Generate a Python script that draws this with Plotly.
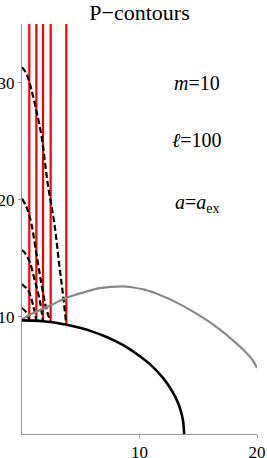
import plotly.graph_objects as go

# Red vertical P-contour positions (x) and their bottom ends on the black boundary (y)
red_x = [0.62, 1.22, 1.79, 2.44, 3.77]
red_y_bottom = [9.69, 9.66, 9.62, 9.55, 9.33]
red_y_top = 35

# Dashed black contours
dash1_x = [0, 0.3, 0.55, 0.8, 1.2, 1.65, 2.2, 2.75, 3.2, 3.5, 3.77]
dash1_y = [31.3, 30.9, 30.3, 29.4, 27.7, 25.5, 21.3, 18.0, 14.2, 11.8, 9.33]
dash2_x = [0, 0.37, 0.79, 1.22, 1.64, 2.07, 2.44]
dash2_y = [20.1, 19.4, 18.0, 15.4, 12.9, 10.7, 9.55]
dash3_x = [0, 0.17, 0.65, 1.08, 1.5, 1.79]
dash3_y = [15.7, 15.56, 14.7, 13.15, 11.45, 9.62]
dash4_x = [0, 0.09, 0.51, 0.94, 1.22]
dash4_y = [12.8, 12.7, 12.3, 11.0, 9.66]
dash5_x = [0, 0.37, 0.62]
dash5_y = [10.75, 10.37, 9.69]

# Gray curve
gray_x = [0, 1.0, 2.4, 3.7, 4.94, 6.64, 8.6, 9.19, 10.5, 11.74, 13.0, 14.3, 15.6, 16.85, 18.0, 18.98, 19.6, 20.0]
gray_y = [9.8, 10.35, 10.96, 11.6, 12.0, 12.45, 12.6, 12.55, 12.3, 11.87, 11.3, 10.6, 9.8, 8.9, 7.95, 7.05, 6.35, 5.63]

# Black solid boundary
black_x = [0, 1, 2, 3, 4, 5, 6, 7, 8, 9, 10, 11, 12, 12.5, 13, 13.3, 13.5, 13.7, 13.8]
black_y = [9.7, 9.68, 9.6, 9.48, 9.28, 9.04, 8.74, 8.36, 7.9, 7.35, 6.66, 5.86, 4.79, 4.1, 3.26, 2.6, 2.01, 1.16, 0]

x_ticks = [10, 20]
y_ticks = [10, 20, 30]

SERIF = "Liberation Serif, serif"

fig = go.Figure()

for xv, yb in zip(red_x, red_y_bottom):
    fig.add_trace(go.Scatter(x=[xv, xv], y=[yb, red_y_top], mode="lines",
                             line=dict(color="#ff0000", width=2.2), hoverinfo="skip"))

for dx, dy in [(dash1_x, dash1_y), (dash2_x, dash2_y), (dash3_x, dash3_y),
               (dash4_x, dash4_y), (dash5_x, dash5_y)]:
    fig.add_trace(go.Scatter(x=dx, y=dy, mode="lines", line_shape="spline",
                             line=dict(color="black", width=2.2, dash="6px,3px"), hoverinfo="skip"))

fig.add_trace(go.Scatter(x=gray_x, y=gray_y, mode="lines", line_shape="spline",
                         line=dict(color="#888888", width=2.2), hoverinfo="skip"))
fig.add_trace(go.Scatter(x=black_x, y=black_y, mode="lines", line_shape="spline",
                         line=dict(color="black", width=2.6), hoverinfo="skip"))

ann_font = dict(family=SERIF, size=20, color="black")
fig.add_annotation(x=14.9, y=30.0, text="<i>m</i>=10", showarrow=False, font=ann_font)
fig.add_annotation(x=14.9, y=25.1, text="<i>ℓ</i>=100", showarrow=False, font=ann_font)
fig.add_annotation(x=14.9, y=19.7, text="<i>a</i>=<i>a</i><sub>ex</sub>", showarrow=False, font=ann_font)

fig.update_layout(
    width=267, height=458,
    margin=dict(l=22, r=10, t=24, b=24, autoexpand=False),
    paper_bgcolor="white", plot_bgcolor="white",
    showlegend=False,
    title=dict(text="P\u2212contours", x=0.5, xref="paper", xanchor="center",
               y=1 - 12 / 458, yref="container", yanchor="middle",
               font=dict(family=SERIF, size=22, color="black")),
    xaxis=dict(range=[0, 20], tickvals=x_ticks, showgrid=False, zeroline=False,
               showline=True, linecolor="#999999", linewidth=1, automargin=False,
               ticks="outside", ticklen=3, tickcolor="#999999", ticklabelstandoff=0,
               tickfont=dict(family=SERIF, size=17, color="black")),
    yaxis=dict(range=[0, 35], tickvals=y_ticks, showgrid=False, zeroline=False,
               showline=True, linecolor="#999999", linewidth=1, automargin=False,
               ticks="outside", ticklen=3, tickcolor="#999999", ticklabelstandoff=0,
               tickfont=dict(family=SERIF, size=17, color="black")),
)

fig.write_html("out.html", config={"displayModeBar": False},
               post_script="document.body.style.margin='0';document.body.style.padding='0';")
